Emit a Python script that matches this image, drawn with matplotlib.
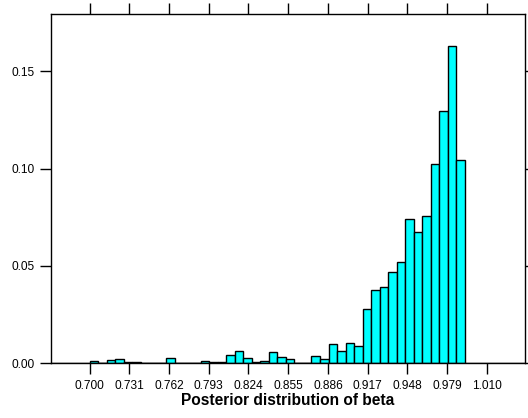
import numpy as np
from matplotlib import pyplot as plt

# histogram of posterior draws of beta (density scale)
bin_start = 0.700
bin_width = 0.00666
heights = [0.0013, 0.0003, 0.0015, 0.0022, 0.0009, 0.0008, 0.0003, 0.0004,
           0.0002, 0.0027, 0.0, 0.0, 0.0003, 0.0010, 0.0009, 0.0005,
           0.0043, 0.0062, 0.0026, 0.0005, 0.0010, 0.0057, 0.0031, 0.0022,
           0.0, 0.0, 0.0036, 0.0024, 0.0099, 0.0063, 0.0106, 0.0090,
           0.0281, 0.0377, 0.0393, 0.0468, 0.0519, 0.0740, 0.0675, 0.0757,
           0.1026, 0.1295, 0.1629, 0.1044]

x_ticks = [0.700, 0.731, 0.762, 0.793, 0.824, 0.855, 0.886, 0.917, 0.948, 0.979, 1.010]
x_labels = ['0.700', '0.731', '0.762', '0.793', '0.824', '0.855',
            '0.886', '0.917', '0.948', '0.979', '1.010']
y_ticks = [0.00, 0.05, 0.10, 0.15]
y_labels = ['0.00', '0.05', '0.10', '0.15']

plt.rcParams['font.family'] = ['Liberation Sans', 'DejaVu Sans']

if __name__ == '__main__':
    lefts = bin_start + np.arange(len(heights)) * bin_width

    fig = plt.figure(figsize=(5.28, 4.18), dpi=100)
    ax = fig.add_axes([0.0966, 0.1309, 0.8977, 0.8356])

    ax.axhline(0, color='black', linewidth=1, zorder=1)
    ax.bar(lefts, heights, width=bin_width, align='edge', color='#00FFFF',
           edgecolor='black', linewidth=1, zorder=2)

    ax.set_xlim(0.6698, 1.0399)
    ax.set_ylim(0, 0.1795)
    ax.set_xticks(x_ticks)
    ax.set_xticklabels(x_labels)
    ax.set_yticks(y_ticks)
    ax.set_yticklabels(y_labels)
    ax.tick_params(direction='out', length=8, width=1, top=True, right=True,
                   labeltop=False, labelright=False, labelsize=8.6, pad=4)
    for s in ax.spines.values():
        s.set_linewidth(1)

    ax.set_xlabel('Posterior distribution of beta', fontsize=11.2, fontweight='bold', labelpad=0.5)

    fig.savefig('out.png', dpi=100)
